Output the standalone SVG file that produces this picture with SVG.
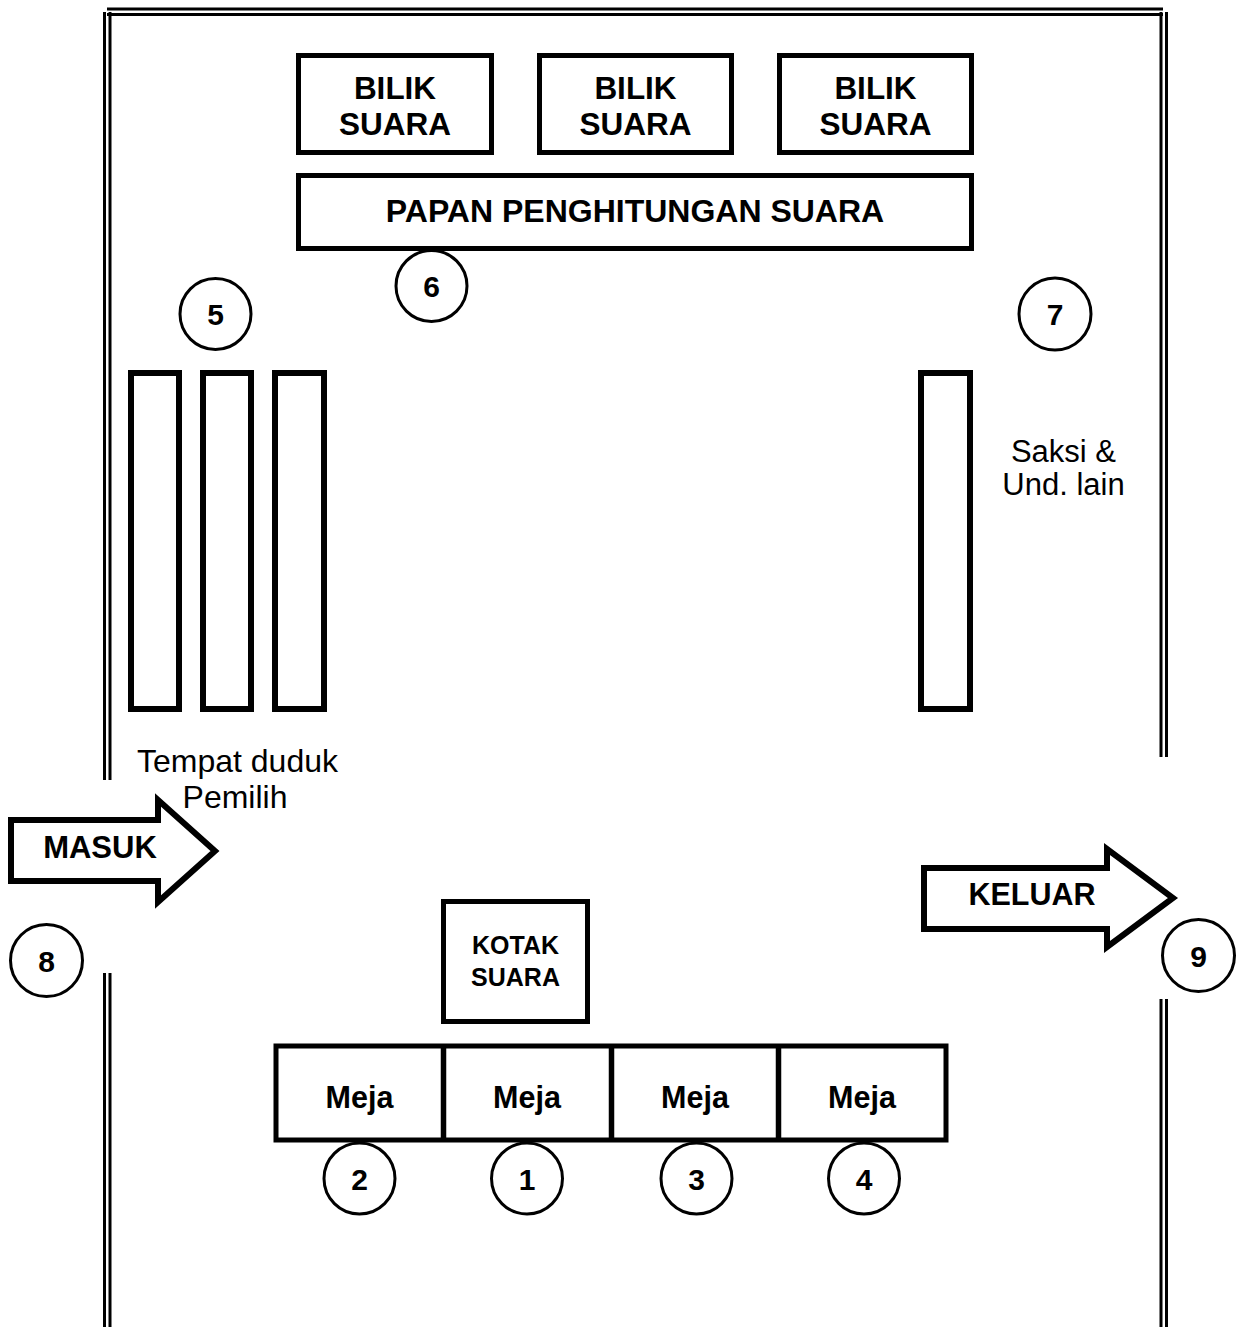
<svg xmlns="http://www.w3.org/2000/svg" width="1236" height="1327" viewBox="0 0 1236 1327">
<style>
.wall{stroke:#000;stroke-width:3;fill:none}
.box{fill:#fff;stroke:#000;stroke-width:5}
.seat{fill:#fff;stroke:#000;stroke-width:6}
.circ{fill:#fff;stroke:#000;stroke-width:3}
.arrow{fill:#fff;stroke:#000;stroke-width:6;stroke-linejoin:miter}
.b{font-family:"Liberation Sans",Arial,sans-serif;font-weight:bold;fill:#000;text-anchor:middle}
.r{font-family:"Liberation Sans",Arial,sans-serif;fill:#000;text-anchor:middle}
.n{font-size:30px}
</style>
<rect width="1236" height="1327" fill="#fff"/>
<g id="walls">
<line class="wall" x1="107" y1="9" x2="1163" y2="9" stroke-width="2.5"/>
<line class="wall" x1="107" y1="14.5" x2="1163" y2="14.5" stroke-width="3"/>
<line class="wall" x1="104.5" y1="12" x2="104.5" y2="780"/>
<line class="wall" x1="110" y1="12" x2="110" y2="780"/>
<line class="wall" x1="104.5" y1="973" x2="104.5" y2="1327"/>
<line class="wall" x1="110" y1="973" x2="110" y2="1327"/>
<line class="wall" x1="1161" y1="12" x2="1161" y2="757"/>
<line class="wall" x1="1166.5" y1="12" x2="1166.5" y2="757"/>
<line class="wall" x1="1161" y1="999" x2="1161" y2="1327"/>
<line class="wall" x1="1166.5" y1="999" x2="1166.5" y2="1327"/>
</g>
<g id="bilik1"><rect class="box" x="298.5" y="55.5" width="193" height="97"/><text class="b" x="395" y="99" font-size="31.5">BILIK</text><text class="b" x="395" y="135" font-size="31.5">SUARA</text></g>
<g id="bilik2"><rect class="box" x="539.5" y="55.5" width="192" height="97"/><text class="b" x="635.5" y="99" font-size="31.5">BILIK</text><text class="b" x="635.5" y="135" font-size="31.5">SUARA</text></g>
<g id="bilik3"><rect class="box" x="779.5" y="55.5" width="192" height="97"/><text class="b" x="875.5" y="99" font-size="31.5">BILIK</text><text class="b" x="875.5" y="135" font-size="31.5">SUARA</text></g>
<g id="papan"><rect class="box" x="298.5" y="175.5" width="673" height="73"/><text class="b" x="635" y="222" font-size="32">PAPAN PENGHITUNGAN SUARA</text></g>
<g id="c6"><circle class="circ" cx="431.5" cy="286" r="35.5"/><text class="b n" x="431.5" y="297">6</text></g>
<g id="c5"><circle class="circ" cx="215.5" cy="314" r="35.5"/><text class="b n" x="215.5" y="325">5</text></g>
<g id="c7"><circle class="circ" cx="1055" cy="314" r="36"/><text class="b n" x="1055" y="325">7</text></g>
<g id="kursi-pemilih">
<rect class="seat" x="131" y="373" width="48" height="336"/>
<rect class="seat" x="203" y="373" width="48" height="336"/>
<rect class="seat" x="275" y="373" width="49" height="336"/>
<text class="r" x="237.5" y="772" font-size="32">Tempat duduk</text>
<text class="r" x="235" y="808" font-size="32">Pemilih</text>
</g>
<g id="kursi-saksi">
<rect class="seat" x="921" y="373" width="49" height="336"/>
<text class="r" x="1063.5" y="462" font-size="31">Saksi &amp;</text>
<text class="r" x="1063.5" y="495" font-size="31">Und. lain</text>
</g>
<g id="masuk"><polygon class="arrow" points="11,820 158,820 158,800 215,851 158,902 158,881 11,881"/><text class="b" x="100" y="858" font-size="31">MASUK</text></g>
<g id="keluar"><polygon class="arrow" points="924,868 1107,868 1107,849 1173,898 1107,947 1107,929 924,929"/><text class="b" x="1032" y="905" font-size="30.5">KELUAR</text></g>
<g id="c8"><circle class="circ" cx="46.5" cy="960.5" r="36"/><text class="b n" x="46.5" y="971.5">8</text></g>
<g id="c9"><circle class="circ" cx="1198.5" cy="955.5" r="36"/><text class="b n" x="1198.5" y="966.5">9</text></g>
<g id="kotak"><rect class="box" x="443.5" y="901.5" width="144" height="120"/><text class="b" x="515.5" y="954" font-size="25">KOTAK</text><text class="b" x="515.5" y="986" font-size="25">SUARA</text></g>
<g id="meja">
<rect class="box" x="276" y="1046" width="670" height="94" stroke-width="5.5"/>
<line x1="443.5" y1="1046" x2="443.5" y2="1140" stroke="#000" stroke-width="5.5"/>
<line x1="611.5" y1="1046" x2="611.5" y2="1140" stroke="#000" stroke-width="5.5"/>
<line x1="778.5" y1="1046" x2="778.5" y2="1140" stroke="#000" stroke-width="5.5"/>
<text class="b" x="359.5" y="1108" font-size="30.5">Meja</text>
<text class="b" x="527" y="1108" font-size="30.5">Meja</text>
<text class="b" x="695" y="1108" font-size="30.5">Meja</text>
<text class="b" x="862" y="1108" font-size="30.5">Meja</text>
</g>
<g id="c2"><circle class="circ" cx="359.5" cy="1178.5" r="35.5"/><text class="b n" x="359.5" y="1189.5">2</text></g>
<g id="c1"><circle class="circ" cx="527" cy="1178.5" r="35.5"/><text class="b n" x="527" y="1189.5">1</text></g>
<g id="c3"><circle class="circ" cx="696.5" cy="1178.5" r="35.5"/><text class="b n" x="696.5" y="1189.5">3</text></g>
<g id="c4"><circle class="circ" cx="864" cy="1178.5" r="35.5"/><text class="b n" x="864" y="1189.5">4</text></g>
</svg>
